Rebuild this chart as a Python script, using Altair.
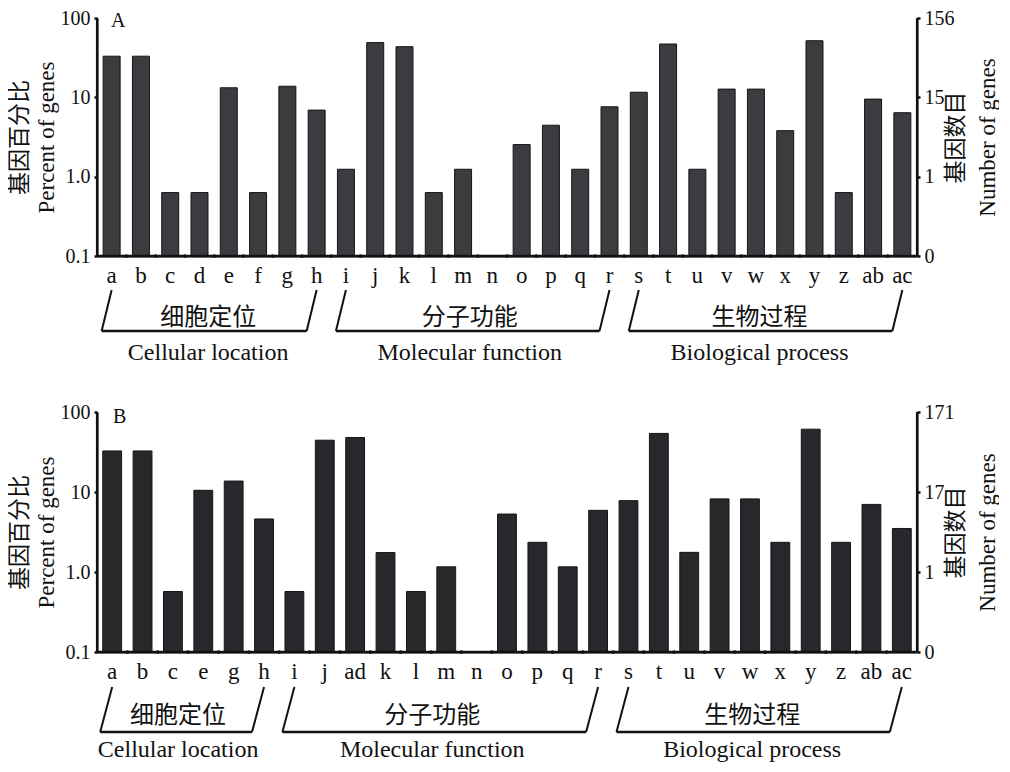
import altair as alt
import pandas as pd

# ---------------- data ----------------
cats_a = ["a", "b", "c", "d", "e", "f", "g", "h", "i", "j", "k", "l", "m", "n",
          "o", "p", "q", "r", "s", "t", "u", "v", "w", "x", "y", "z", "ab", "ac"]
pct_a = [33.0, 33.0, 0.63, 0.63, 13.2, 0.63, 13.8, 6.9, 1.24, 49.0, 43.5, 0.63, 1.24, None,
         2.54, 4.45, 1.24, 7.6, 11.6, 47.0, 1.24, 12.7, 12.7, 3.8, 51.7, 0.63, 9.5, 6.4]
right_vals_a = ["0", "1", "15", "156"]

cats_b = ["a", "b", "c", "e", "g", "h", "i", "j", "ad", "k", "l", "m", "n",
          "o", "p", "q", "r", "s", "t", "u", "v", "w", "x", "y", "z", "ab", "ac"]
pct_b = [32.6, 32.6, 0.57, 10.5, 13.7, 4.6, 0.57, 44.4, 48.0, 1.75, 0.57, 1.16, None,
         5.3, 2.35, 1.16, 5.9, 7.8, 54.0, 1.76, 8.2, 8.2, 2.35, 61.0, 2.35, 7.0, 3.5]
right_vals_b = ["0", "1", "17", "171"]

tick_vals = [0.1, 1, 10, 100]
left_labels = ["0.1", "1.0", "10", "100"]

group_zh = ["细胞定位", "分子功能", "生物过程"]
group_en = ["Cellular location", "Molecular function", "Biological process"]
group_start = ["a", "i", "s"]
group_end = ["h", "r", "ac"]

SERIF = "Liberation Serif"
CJK = "Noto Sans CJK SC"
MIX = "Liberation Serif, Noto Sans CJK SC"
INK = "#111111"


def label_expr(labels):
    # labels correspond to tick_vals in ascending order
    return ("datum.value >= 50 ? '%s' : datum.value >= 5 ? '%s' : "
            "datum.value >= 0.5 ? '%s' : '%s'") % (labels[3], labels[2], labels[1], labels[0])


def panel(cats, pct, right_labels, letter, H, bar_fill, pad_inner, slant,
          label_shift, letter_pos, offs):
    W = 820
    N = len(cats)
    step = W / N
    df = pd.DataFrame({"cat": cats, "pct": pct})
    xband = alt.Scale(domain=cats, paddingInner=pad_inner, paddingOuter=pad_inner / 2)
    yscale = alt.Scale(type="log", domain=[0.1, 100], nice=False)

    x_axis = alt.Axis(title=None, labelAngle=0, labelFont=SERIF, labelFontSize=23,
                      labelColor=INK, labelPadding=offs["lab"], ticks=False, domain=True,
                      domainColor=INK, domainWidth=2.2, grid=False)
    left_axis = alt.Axis(values=tick_vals, labelExpr=label_expr(left_labels),
                         labelFont=SERIF, labelFontSize=20, labelColor=INK,
                         labelPadding=4, tickSize=3, tickWidth=2.5, tickColor=INK,
                         domain=True, domainColor=INK, domainWidth=2.2, grid=False,
                         title=["基因百分比", "Percent of genes"], titleFont=MIX,
                         titleFontSize=23, titleFontWeight="normal", titleColor=INK,
                         titleAngle=270, titleX=-78, titleY=H / 2, titleAlign="center",
                         titleBaseline="middle", titleLineHeight=27)
    right_axis = alt.Axis(orient="right", values=tick_vals,
                          labelExpr=label_expr(right_labels),
                          labelFont=SERIF, labelFontSize=20, labelColor=INK,
                          labelPadding=4, tickSize=3, tickWidth=2.5, tickColor=INK,
                          domain=True, domainColor=INK, domainWidth=2.2, grid=False,
                          title=["基因数目", "Number of genes"], titleFont=MIX,
                          titleFontSize=23, titleFontWeight="normal", titleColor=INK,
                          titleAngle=270, titleX=38, titleY=H / 2, titleAlign="center",
                          titleBaseline="middle", titleLineHeight=32)

    bars = alt.Chart(df).mark_bar(fill=bar_fill, stroke="#151515", strokeWidth=1).encode(
        x=alt.X("cat:N", scale=xband, sort=cats, axis=x_axis),
        y=alt.Y("pct:Q", scale=yscale, axis=left_axis),
        y2=alt.datum(0.1),
    )
    dots = alt.Chart(pd.DataFrame({"cat": cats[:-1]})).mark_circle(
        size=14, color=INK, opacity=1, xOffset=step / 2).encode(
        x=alt.X("cat:N", scale=xband, sort=cats, axis=x_axis),
        y=alt.YDatum(0.1, scale=yscale, axis=left_axis),
    )
    letter_txt = alt.Chart(pd.DataFrame({"t": [letter]})).mark_text(
        font=SERIF, fontSize=20, color=INK, align="left", baseline="middle").encode(
        x=alt.value(letter_pos[0]), y=alt.value(letter_pos[1]), text="t:N")
    main = alt.layer(bars, dots, letter_txt)

    right = alt.Chart(df).mark_rule(opacity=0).encode(
        y=alt.Y("pct:Q", scale=yscale, axis=right_axis))

    # frame lines (left axis, right axis, baseline)
    one = alt.Chart(pd.DataFrame({"k": [0]}))
    left_line = one.mark_rule(color=INK, strokeWidth=2.2).encode(
        x=alt.value(0), y=alt.value(0), y2=alt.value(H))
    right_line = one.mark_rule(color=INK, strokeWidth=2.2).encode(
        x=alt.value(W), y=alt.value(0), y2=alt.value(H))
    base_line = one.mark_rule(color=INK, strokeWidth=2.4).encode(
        x=alt.value(0), x2=alt.value(W), y=alt.value(H))

    idx = {c: i for i, c in enumerate(cats)}
    s = [idx[c] + 0.5 for c in group_start]
    e = [idx[c] + 0.5 for c in group_end]
    m = [(a + b) / 2 + sh / step for a, b, sh in zip(s, e, label_shift)]
    gdf = pd.DataFrame({"s": s, "e": e, "m": m, "zh": group_zh, "en": group_en})
    xq = alt.Scale(domain=[0, N], nice=False, zero=False)
    top_y, bot_y = H + offs["top"], H + offs["bot"]
    base = alt.Chart(gdf)
    lslant = base.mark_rule(color=INK, strokeWidth=2, x2Offset=slant).encode(
        x=alt.X("s:Q", scale=xq, axis=None), x2="s:Q",
        y=alt.value(top_y), y2=alt.value(bot_y))
    rslant = base.mark_rule(color=INK, strokeWidth=2, x2Offset=slant).encode(
        x=alt.X("e:Q", scale=xq, axis=None), x2="e:Q",
        y=alt.value(top_y), y2=alt.value(bot_y))
    hline = base.mark_rule(color=INK, strokeWidth=2.4, xOffset=slant, x2Offset=slant).encode(
        x=alt.X("s:Q", scale=xq, axis=None), x2="e:Q", y=alt.value(bot_y))
    zh_txt = base.mark_text(font=CJK, fontSize=24, color=INK, baseline="middle").encode(
        x=alt.X("m:Q", scale=xq, axis=None), y=alt.value(H + offs["zh"]), text="zh:N")
    en_txt = base.mark_text(font=SERIF, fontSize=24, color=INK, baseline="middle").encode(
        x=alt.X("m:Q", scale=xq, axis=None), y=alt.value(H + offs["en"]), text="en:N")
    brk = alt.layer(lslant, rslant, hline, zh_txt, en_txt, left_line, right_line, base_line)

    return alt.layer(main, right, brk).resolve_scale(
        x="independent", y="independent").properties(width=W, height=H)


pA = panel(cats_a, pct_a, right_vals_a, "A", 238, "#3a3c40", 0.42, -10,
           [-6, -8, -11], (14, 3),
           {"lab": 8, "top": 34, "bot": 75, "zh": 62, "en": 97})
pB = panel(cats_b, pct_b, right_vals_b, "B", 240, "#26282c", 0.38, -12,
           [-10, -14, -13], (16, 5),
           {"lab": 8, "top": 35, "bot": 80, "zh": 64, "en": 98})

chart = alt.vconcat(pA, pB, spacing=37).properties(padding=0).configure_view(stroke=None)

chart.save("out.html", embed_options={"renderer": "svg", "actions": False})
